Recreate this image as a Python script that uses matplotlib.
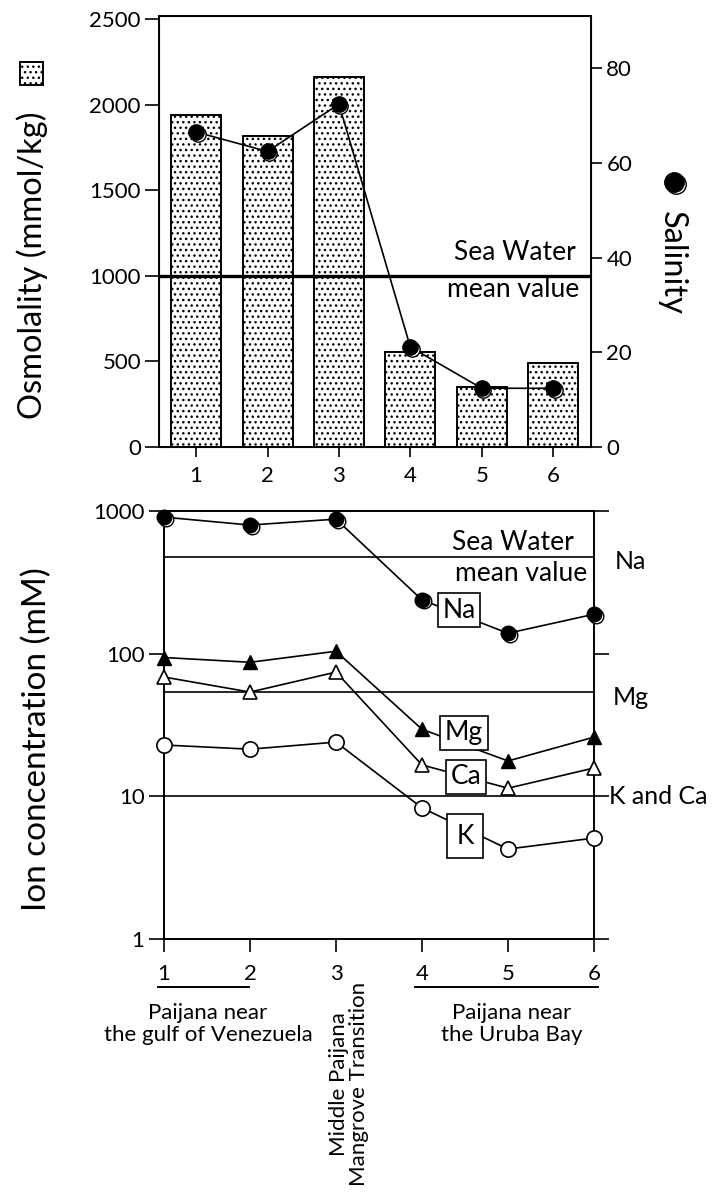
import matplotlib
matplotlib.use("Agg")
import matplotlib.pyplot as plt
import matplotlib.transforms as mtransforms
from matplotlib.patches import Rectangle
from matplotlib.lines import Line2D

plt.rcParams['font.family'] = ['Lato', 'DejaVu Sans']
plt.rcParams['hatch.linewidth'] = 1.0

# data
sites = [1, 2, 3, 4, 5, 6]
osmolality = [1939, 1817, 2161, 555, 350, 490]
salinity = [66.5, 62.4, 72.4, 21.1, 12.4, 12.4]
sea_osm = 1000

na = [906, 797, 877, 238, 139, 189]
mg = [94, 87, 104, 29.5, 17.7, 26]
ca = [68.6, 53.8, 74.3, 16.6, 11.4, 15.8]
k = [22.9, 21.4, 24.0, 8.3, 4.27, 5.1]
sea_na, sea_mg, sea_kca = 475, 53.8, 10

fig = plt.figure(figsize=(7.2, 11.93), dpi=100)

# ---------- top panel ----------
ax1 = fig.add_axes([159 / 720, 1 - 447 / 1193, 432 / 720, 431 / 1193])
ax1.bar(sites, osmolality, width=0.7, color='white', edgecolor='black',
        linewidth=1.4, hatch='...', zorder=2)
ax1.axhline(sea_osm, color='black', lw=2.4, zorder=3)
ax1.set_xlim(0.48, 6.53)
ax1.set_ylim(0, 2517)
ax1.set_yticks([0, 500, 1000, 1500, 2000, 2500])
ax1.set_xticks(sites)
ax1.tick_params(axis='y', length=10, width=1.2, labelsize=16, pad=3)
ax1.tick_params(axis='x', length=7, width=1.2, labelsize=16, pad=7)
for s in ax1.spines.values():
    s.set_linewidth(1.4)
ax1.text(6.31, 1133, 'Sea Water', ha='right', va='center', fontsize=19)
ax1.text(6.36, 917, 'mean value', ha='right', va='center', fontsize=19)

ax2 = ax1.twinx()
ax2.set_ylim(0, 91)
ax2.set_yticks([0, 20, 40, 60, 80])
ax2.tick_params(axis='y', length=8, width=1.2, labelsize=16, pad=3)
ax2.plot(sites, salinity, color='black', lw=1.2, zorder=4)
shadow = mtransforms.offset_copy(ax2.transData, fig=fig, x=1.5, y=-1.5, units='dots')
ax2.plot(sites, salinity, ls='none', marker='o', ms=11, mfc='white',
         mec='black', mew=1.0, transform=shadow, zorder=5)
ax2.plot(sites, salinity, ls='none', marker='o', ms=11, mfc='black',
         mec='black', zorder=6)

fig.text(32 / 720, 1 - 265 / 1193, 'Osmolality (mmol/kg)', rotation=90,
         ha='center', va='center', fontsize=23.5)
fig.add_artist(Rectangle((20 / 720, 1 - 85 / 1193), 23 / 720, 23 / 1193,
                         transform=fig.transFigure, facecolor='white',
                         edgecolor='black', lw=1.4, hatch='...'))
fig.text(672 / 720, 1 - 263 / 1193, 'Salinity', rotation=270,
         ha='center', va='center', fontsize=23.5)
fig.add_artist(Line2D([674 / 720 + 1.5 / 720], [1 - 182 / 1193 - 1.5 / 1193],
                      transform=fig.transFigure, marker='o', ms=14,
                      mfc='white', mec='black', ls='none'))
fig.add_artist(Line2D([674 / 720], [1 - 182 / 1193], transform=fig.transFigure,
                      marker='o', ms=14, mfc='black', mec='black', ls='none'))

# ---------- bottom panel ----------
ax3 = fig.add_axes([164 / 720, 1 - 939 / 1193, 430 / 720, 428 / 1193])
ax3.set_yscale('log')
ax3.set_xlim(1, 6)
ax3.set_ylim(1, 1000)
ax3.set_xticks(sites)
ax3.set_yticks([1, 10, 100, 1000])
ax3.set_yticklabels(['1', '10', '100', '1000'])
ax3.minorticks_off()
ax3.tick_params(axis='y', which='both', left=True, right=True, length=11,
                width=1.2, labelsize=16, pad=3, direction='out')
ax3.tick_params(axis='x', length=9, width=1.2, labelsize=16, pad=9)
for s in ax3.spines.values():
    s.set_linewidth(1.4)

for v in (sea_na, sea_mg, sea_kca):
    ax3.axhline(v, color='black', lw=1.2, zorder=1)

sh3 = mtransforms.offset_copy(ax3.transData, fig=fig, x=1.5, y=-1.5, units='dots')
ax3.plot(sites, na, color='black', lw=1.2, zorder=3, clip_on=False)
ax3.plot(sites, na, ls='none', marker='o', ms=10.5, mfc='white', mec='black',
         mew=1.0, transform=sh3, zorder=4, clip_on=False)
ax3.plot(sites, na, ls='none', marker='o', ms=10.5, mfc='black', mec='black',
         zorder=5, clip_on=False)
ax3.plot(sites, mg, color='black', lw=1.2, marker='^', ms=10, mfc='black',
         mec='black', zorder=3, clip_on=False)
ax3.plot(sites, ca, color='black', lw=1.2, marker='^', ms=10, mfc='white',
         mec='black', mew=1.2, zorder=3, clip_on=False)
ax3.plot(sites, k, color='black', lw=1.2, marker='o', ms=11, mfc='white',
         mec='black', mew=1.2, zorder=3, clip_on=False)

box = dict(boxstyle='square,pad=0.18', fc='white', ec='black', lw=1.2)
ax3.text(4.43, 202, 'Na', ha='center', va='center', fontsize=19, bbox=box, zorder=6)
ax3.text(4.49, 27.8, 'Mg', ha='center', va='center', fontsize=19, bbox=box, zorder=6)
ax3.text(4.51, 13.7, 'Ca', ha='center', va='center', fontsize=19, bbox=box, zorder=6)
ax3.text(4.50, 5.27, 'K', ha='center', va='center', fontsize=19,
         bbox=dict(boxstyle='square,pad=0.35', fc='white', ec='black', lw=1.2),
         zorder=6)

ax3.text(5.767, 605, 'Sea Water', ha='right', va='center', fontsize=19)
ax3.text(5.92, 367, 'mean value', ha='right', va='center', fontsize=19)

trans_r = mtransforms.blended_transform_factory(fig.transFigure, ax3.transData)
ax3.text(615 / 720, 446, 'Na', transform=trans_r, ha='left', va='center', fontsize=18)
ax3.text(613 / 720, 49.6, 'Mg', transform=trans_r, ha='left', va='center', fontsize=18)
ax3.text(609 / 720, 9.9, 'K and Ca', transform=trans_r, ha='left', va='center', fontsize=18)

fig.text(37 / 720, 1 - 739 / 1193, 'Ion concentration (mM)', rotation=90,
         ha='center', va='center', fontsize=24)

# group annotations below the x axis
fig.add_artist(Line2D([158 / 720, 249 / 720], [1 - 987 / 1193] * 2,
                      transform=fig.transFigure, color='black', lw=1.4))
fig.add_artist(Line2D([415 / 720, 598 / 720], [1 - 987 / 1193] * 2,
                      transform=fig.transFigure, color='black', lw=1.4))
fig.text(208 / 720, 1 - 1024 / 1193, 'Paijana near\nthe gulf of Venezuela',
         ha='center', va='center', fontsize=16, linespacing=1.1)
fig.text(512 / 720, 1 - 1024 / 1193, 'Paijana near\nthe Uruba Bay',
         ha='center', va='center', fontsize=16, linespacing=1.1)
fig.text(349 / 720, 1 - 1084 / 1193, 'Middle Paijana\nMangrove Transition',
         rotation=90, ha='center', va='center', fontsize=16, linespacing=1.05,
         multialignment='center')

fig.savefig('out.png', dpi=100)
